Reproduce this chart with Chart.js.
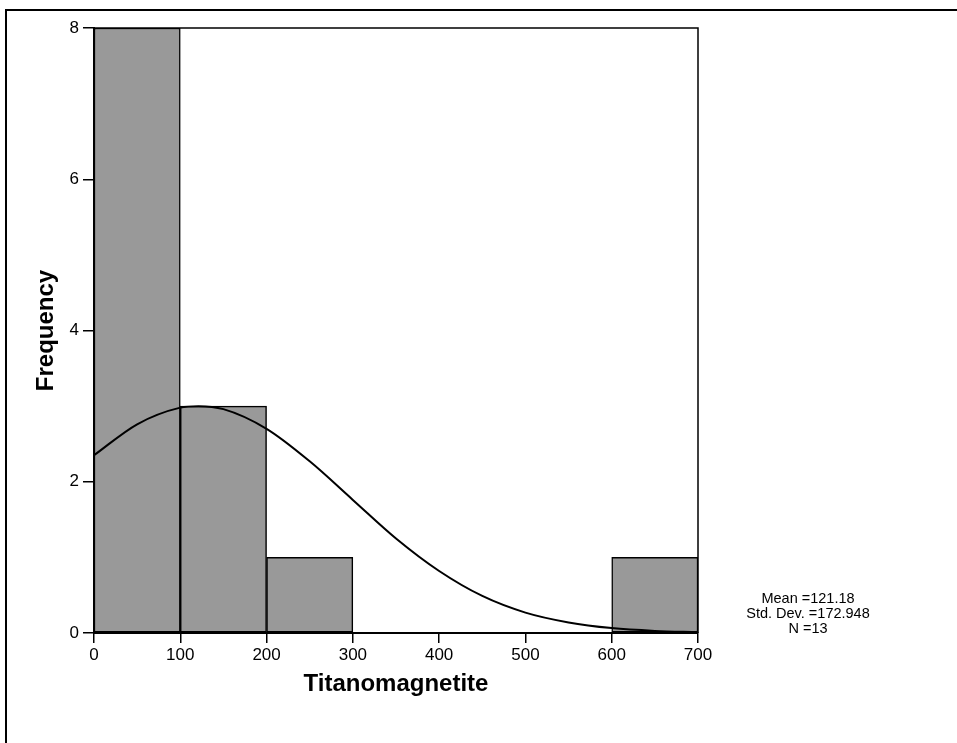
<!DOCTYPE html>
<html>
<head>
<meta charset="utf-8">
<script src="https://cdn.jsdelivr.net/npm/chart.js@4"></script>
<style>
  body { margin: 0; background: #fff; }
  canvas { display: block; }
</style>
</head>
<body>
<canvas id="histChart" width="957" height="743"></canvas>
<script>
// Bins (centres) and counts
const binCentres = [50, 150, 250, 350, 450, 550, 650];
const binCounts = [8, 3, 1, 0, 0, 0, 1];

// Normal curve
const curveX = [0, 50, 100, 121, 150, 200, 250, 300, 350, 400, 450, 500, 550, 600, 650, 700];
const curveY = [2.35, 2.76, 2.98, 3.0, 2.96, 2.70, 2.27, 1.76, 1.25, 0.82, 0.49, 0.27, 0.14, 0.065, 0.028, 0.011];

const statLines = ["Mean =121.18", "Std. Dev. =172.948", "N =13"];

const FONT = "'Liberation Sans', Arial, sans-serif";

// frame around plot, outer border, stats text
const decorations = {
    id: "decorations",
    afterDraw(chart) {
        const ctx = chart.ctx;
        const a = chart.chartArea;
        ctx.save();
        ctx.strokeStyle = "#000";
        ctx.lineWidth = 1.5;
        ctx.beginPath();
        ctx.moveTo(a.left, a.top);
        ctx.lineTo(a.right, a.top);
        ctx.lineTo(a.right, a.bottom);
        ctx.stroke();

        // outer border (only top and left visible)
        ctx.lineWidth = 2;
        ctx.beginPath();
        ctx.moveTo(957, 10);
        ctx.lineTo(6, 10);
        ctx.lineTo(6, 743);
        ctx.stroke();

        ctx.fillStyle = "#000";
        ctx.font = "14.5px " + FONT;
        ctx.textAlign = "center";
        ctx.textBaseline = "middle";
        statLines.forEach(function(t, i) {
            ctx.fillText(t, 808, 599 + i * 15);
        });
        ctx.restore();
    }
};

const ctx = document.getElementById("histChart").getContext("2d");
const chart = new Chart(ctx, {
    type: "bar",
    data: {
        datasets: [{
            type: "line",
            data: curveX.map(function(x, i) { return { x: x, y: curveY[i] }; }),
            borderColor: "#000",
            borderWidth: 2,
            pointRadius: 0,
            cubicInterpolationMode: "monotone",
            fill: false,
            order: 0
        }, {
            type: "bar",
            data: binCentres.map(function(x, i) { return { x: x, y: binCounts[i] }; }),
            backgroundColor: "#999999",
            borderColor: "#000",
            borderWidth: 1.5,
            borderSkipped: false,
            barPercentage: 1,
            categoryPercentage: 1,
            order: 1
        }]
    },
    options: {
        responsive: false,
        animation: false,
        devicePixelRatio: 1,
        layout: { padding: { left: 0, top: 28, right: 259, bottom: 0 } },
        plugins: {
            legend: { display: false },
            tooltip: { enabled: false }
        },
        scales: {
            x: {
                type: "linear",
                min: 0,
                max: 700,
                offset: false,
                afterFit: function(s) { s.height = 110; },
                ticks: {
                    stepSize: 100,
                    color: "#000",
                    padding: 2,
                    maxRotation: 0,
                    font: { family: FONT, size: 17 }
                },
                grid: {
                    offset: false,
                    drawOnChartArea: false,
                    tickLength: 10,
                    color: "#000",
                    lineWidth: 1.5
                },
                border: { color: "#000", width: 2 },
                title: {
                    display: true,
                    text: "Titanomagnetite",
                    color: "#000",
                    font: { family: FONT, size: 24, weight: "bold" },
                    padding: { top: 0, bottom: 44 }
                }
            },
            y: {
                min: 0,
                max: 8,
                afterFit: function(s) { s.width = 94; },
                ticks: {
                    stepSize: 2,
                    color: "#000",
                    padding: 4,
                    font: { family: FONT, size: 17 }
                },
                grid: {
                    offset: false,
                    drawOnChartArea: false,
                    tickLength: 11,
                    color: "#000",
                    lineWidth: 1.5
                },
                border: { color: "#000", width: 2 },
                title: {
                    display: true,
                    text: "Frequency",
                    color: "#000",
                    font: { family: FONT, size: 24, weight: "bold" },
                    padding: { top: 32, bottom: 0 }
                }
            }
        }
    },
    plugins: [decorations]
});
</script>
</body>
</html>
